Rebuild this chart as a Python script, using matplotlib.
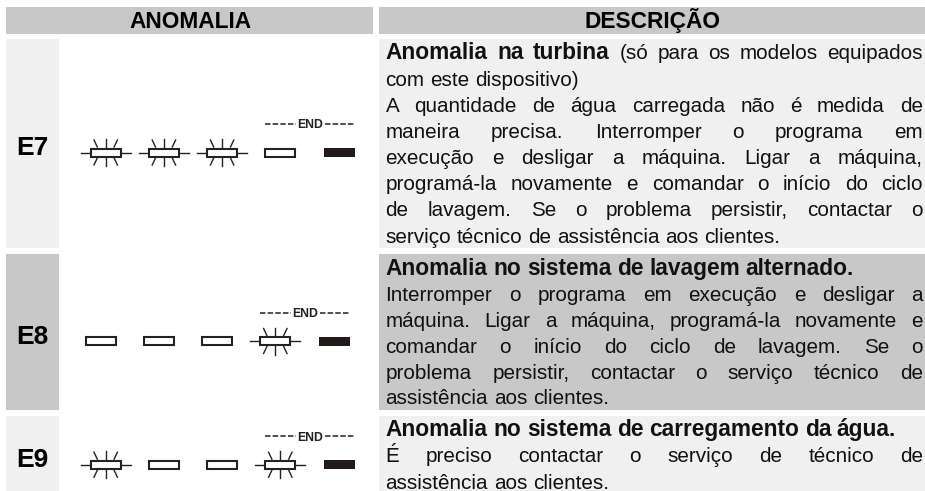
import matplotlib
matplotlib.use('Agg')
import matplotlib.pyplot as plt
from matplotlib.patches import Rectangle

# chart content
headers = ['ANOMALIA', 'DESCRIÇÃO']
codes = ['E7', 'E8', 'E9']
# led states per code: b = blinking, o = off, k = solid
led_states = [['b', 'b', 'b', 'o', 'k'],
              ['o', 'o', 'o', 'b', 'k'],
              ['b', 'o', 'o', 'b', 'k']]
# each line: (bold part, normal part, justified)
text_e7 = [('Anomalia na turbina', '(só para os modelos equipados', True),
           ('', 'com este dispositivo)', False),
           ('', 'A quantidade de água carregada não é medida de', True),
           ('', 'maneira precisa. Interromper o programa em', True),
           ('', 'execução e desligar a máquina. Ligar a máquina,', True),
           ('', 'programá-la novamente e comandar o início do ciclo', True),
           ('', 'de lavagem. Se o problema persistir, contactar o', True),
           ('', 'serviço técnico de assistência aos clientes.', False)]
text_e8 = [('Anomalia no sistema de lavagem alternado.', '', False),
           ('', 'Interromper o programa em execução e desligar a', True),
           ('', 'máquina. Ligar a máquina, programá-la novamente e', True),
           ('', 'comandar o início do ciclo de lavagem. Se o', True),
           ('', 'problema persistir, contactar o serviço técnico de', True),
           ('', 'assistência aos clientes.', False)]
text_e9 = [('Anomalia no sistema de carregamento da água.', '', False),
           ('', 'É preciso contactar o serviço de técnico de', True),
           ('', 'assistência aos clientes.', False)]
texts = [text_e7, text_e8, text_e9]

# layout in pixels
W, H = 925, 491
row_top = [39, 253.5, 416]
row_bot = [248, 410, 491]
row_light = ['#f0f0f0', '#c8c8c8', '#f0f0f0']
first_base = [59.3, 275, 436]
line_step = [26.2, 25.9, 26.3]
led_y = [152.5, 341, 464.7]
led_x0 = [105.7, 100.7, 105.7]
led_step = 58.2
TXT_L, TXT_R = 385.5, 923
FS = 14.85
FS_BOLD = 16.3

plt.rcParams['font.family'] = ['Liberation Sans', 'DejaVu Sans']
plt.rcParams['text.hinting'] = 'no_autohint'
fig = plt.figure(figsize=(W / 100, H / 100), dpi=100)
ax = fig.add_axes([0, 0, 1, 1])
ax.set_xlim(0, W)
ax.set_ylim(H, 0)
ax.axis('off')
rend = fig.canvas.get_renderer()


def text_width(s, weight):
    t = ax.text(0, 0, s, fontsize=FS_BOLD if weight == 'bold' else FS, fontweight=weight)
    w = t.get_window_extent(rend).width
    t.remove()
    return w


def draw_line(bold, normal, justify, y):
    words = [(w, 'bold') for w in bold.split()] + [(w, 'normal') for w in normal.split()]
    widths = [text_width(w, wt) for w, wt in words]
    space = FS * 100 / 72 * 0.278
    if justify:
        space = (TXT_R - TXT_L - sum(widths)) / (len(words) - 1)
    x = TXT_L
    for (w, wt), wd in zip(words, widths):
        ax.text(x, y, w, fontsize=FS_BOLD if wt == 'bold' else FS, fontweight=wt,
                va='baseline', color='#111111')
        x += wd + space


def draw_led(x, y, state):
    lc = '#222222'
    if state == 'k':
        ax.add_patch(Rectangle((x - 15, y - 4.5), 31, 9, fc='#231a1c', ec='none'))
        return
    ax.add_patch(Rectangle((x - 15, y - 4), 30, 8, fc='white', ec=lc, lw=1.5, zorder=3))
    if state == 'b':
        for sx in (-1, 1):
            ax.plot([x + sx * 15, x + sx * 25], [y, y], color=lc, lw=1)
            for sy in (-1, 1):
                ax.plot([x + sx * 8.4, x + sx * 11.7], [y + sy * 5.5, y + sy * 12.5], color=lc, lw=1)
        for sy in (-1, 1):
            ax.plot([x, x], [y + sy * 5, y + sy * 13.5], color=lc, lw=1)


# header bars
ax.add_patch(Rectangle((6, 7), 367, 27, fc='#c8c8c8', ec='none'))
ax.add_patch(Rectangle((379, 7), W - 379, 27, fc='#c8c8c8', ec='none'))
ax.text(191, 28, headers[0], fontsize=16.3, fontweight='bold', ha='center', va='baseline')
ax.text(652, 28, headers[1], fontsize=16.3, fontweight='bold', ha='center', va='baseline')

for i, code in enumerate(codes):
    top, bot = row_top[i], row_bot[i]
    ax.add_patch(Rectangle((6, top), 53, bot - top, fc=row_light[i], ec='none'))
    ax.add_patch(Rectangle((379, top), W - 379, bot - top, fc=row_light[i], ec='none'))
    ax.text(32.5, led_y[i] + 2.5, code, fontsize=19, fontweight='bold', ha='center', va='baseline')

    for j, state in enumerate(led_states[i]):
        draw_led(led_x0[i] + j * led_step, led_y[i], state)

    # END marker over the 4th and 5th leds
    cx = led_x0[i] + 3.5 * led_step + 0.7
    ey = led_y[i] - 28.5
    ax.text(cx, ey + 4.5, 'END', fontsize=8.8, fontweight='bold', ha='center', va='baseline', color='#222222')
    ax.plot([cx - 45, cx - 14.5], [ey, ey], color='#222222', lw=1.1, ls=(0, (3.6, 1.4)))
    ax.plot([cx + 15, cx + 44], [ey, ey], color='#222222', lw=1.1, ls=(0, (3.6, 1.4)))

    for k, (bold, normal, justify) in enumerate(texts[i]):
        draw_line(bold, normal, justify, first_base[i] + k * line_step[i])

fig.savefig('out.png', dpi=100)
